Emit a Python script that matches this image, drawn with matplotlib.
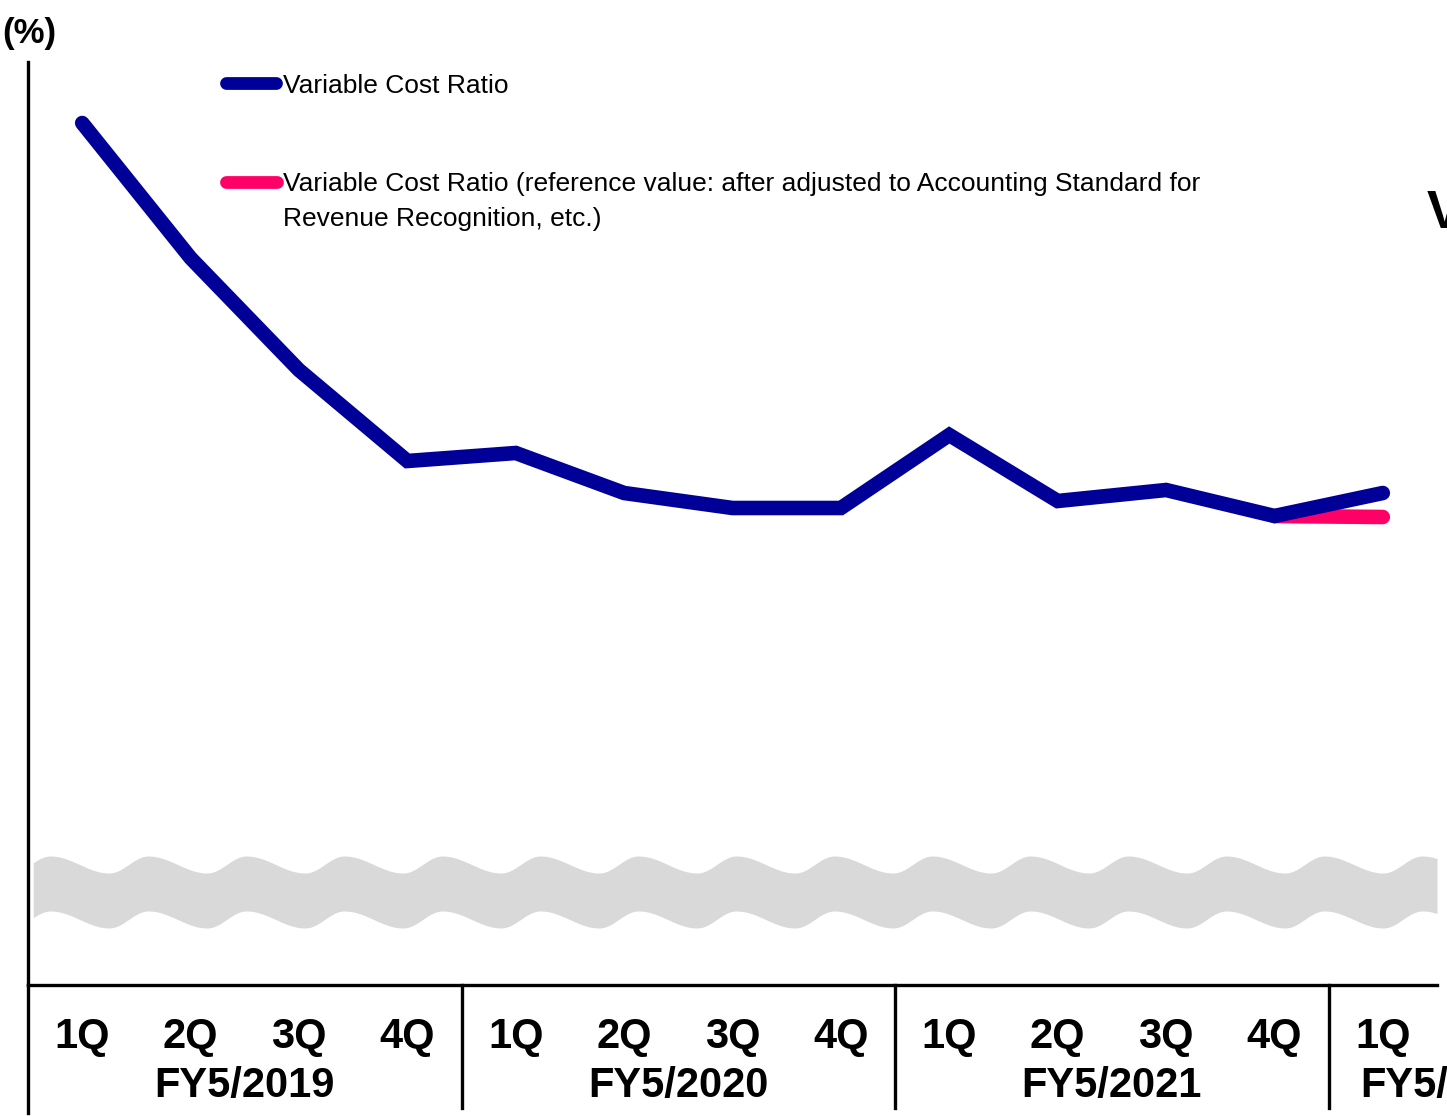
import numpy as np
import matplotlib
matplotlib.use("Agg")
import matplotlib.pyplot as plt
from matplotlib.lines import Line2D
from matplotlib.transforms import blended_transform_factory

# ---- data -------------------------------------------------------------
quarters = ["1Q", "2Q", "3Q", "4Q", "1Q", "2Q", "3Q", "4Q",
            "1Q", "2Q", "3Q", "4Q", "1Q"]
fiscal_years = ["FY5/2019", "FY5/2020", "FY5/2021", "FY5/2022"]
variable_cost_ratio = [86.2, 72.7, 61.5, 52.4, 53.2, 49.2, 47.7, 47.7,
                       55.0, 48.4, 49.5, 46.9, 49.2]
# reference value (after Accounting Standard for Revenue Recognition): 4Q FY5/2021 -> 1Q FY5/2022
adjusted_idx = [11, 12]
adjusted_ratio = [46.9, 46.8]
legend_labels = ["Variable Cost Ratio",
                 "Variable Cost Ratio (reference value: after adjusted to Accounting Standard for",
                 "Revenue Recognition, etc.)"]

BLUE = "#000099"
PINK = "#FF0066"
GREY = "#D9D9D9"

W, H = 1447, 1116
fig = plt.figure(figsize=(W / 100, H / 100), dpi=100)
fig.patch.set_facecolor("white")

def fx(px):
    return px / W

def fy(py):
    return 1 - py / H

ax = fig.add_axes([fx(28), fy(985), (1437 - 28) / W, (985 - 62) / H])
ax.set_xlim(-0.5, 12.5)
ax.set_ylim(0, 92.3)
ax.set_yticks([])
for s in ("top", "right"):
    ax.spines[s].set_visible(False)
for s in ("left", "bottom"):
    ax.spines[s].set_linewidth(2.4)
    ax.spines[s].set_color("black")

# axis-break wave band
xs = np.linspace(-0.452, 12.5, 3000)
period = 98 / 108.38
x_peak = -0.295
p = ((xs - x_peak) / period) % 1.0
shape = np.where(p < 0.6, np.cos(np.pi * p / 0.6),
                 np.cos(np.pi + np.pi * (p - 0.6) / 0.4))
upper = 12.05 + 0.85 * shape
lower = 6.55 + 0.85 * shape
ax.fill_between(xs, lower, upper, color=GREY, lw=0, zorder=1)

# series
x = np.arange(len(variable_cost_ratio))
ax.plot(adjusted_idx, adjusted_ratio, color=PINK, lw=10.5,
        solid_capstyle="round", zorder=3)
ax.plot(x, variable_cost_ratio, color=BLUE, lw=10.5,
        solid_capstyle="round", solid_joinstyle="miter", zorder=4)

bold_font = ["Liberation Sans", "DejaVu Sans"]

# quarter tick labels
ax.set_xticks(x)
ax.set_xticklabels(quarters, fontsize=30, fontweight="bold", family=bold_font)
ax.tick_params(axis="x", length=0, pad=23)

# fiscal year labels and group separators
trans = blended_transform_factory(ax.transData, fig.transFigure)
fy_pos = [1.5, 5.5, 9.5, 12.62]
for pos, lab in zip(fy_pos, fiscal_years):
    ax.text(pos, fy(1097), lab, transform=trans, ha="center", va="baseline",
            fontsize=30, fontweight="bold", family=bold_font, clip_on=False)
for sep in (3.5, 7.5, 11.5):
    ax.axvline(sep, ymin=-(1108 - 985) / 923, ymax=0, clip_on=False,
               color="black", lw=2.4)
ax.axvline(-0.5, ymin=-(1113 - 985) / 923, ymax=0, clip_on=False,
           color="black", lw=2.4)

# unit label
fig.text(fx(2), fy(43), "(%)", fontsize=25, fontweight="bold",
         family=bold_font, va="baseline")
# partially visible title at right edge
fig.text(fx(1427), fy(228), "V", fontsize=38, fontweight="bold",
         family=bold_font, va="baseline")

# legend
label_font = ["Liberation Sans", "DejaVu Sans"]
fig.add_artist(Line2D([fx(226), fx(276)], [fy(83), fy(83)], color=BLUE,
                      lw=9.2, solid_capstyle="round"))
fig.add_artist(Line2D([fx(226), fx(277)], [fy(182), fy(182)], color=PINK,
                      lw=9.2, solid_capstyle="round"))
fig.text(fx(283), fy(93), legend_labels[0], fontsize=19, family=label_font,
         va="baseline")
fig.text(fx(283), fy(191), legend_labels[1], fontsize=19, family=label_font,
         va="baseline")
fig.text(fx(283), fy(226), legend_labels[2], fontsize=19, family=label_font,
         va="baseline")

fig.savefig("out.png", dpi=100)
